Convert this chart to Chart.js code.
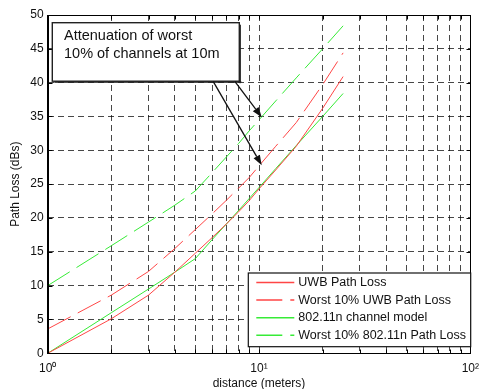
<!DOCTYPE html>
<html><head><meta charset="utf-8">
<script src="https://cdn.jsdelivr.net/npm/chart.js@4.4.0/dist/chart.umd.min.js"></script>
<style>html,body{margin:0;padding:0;background:#fff}#wrap{width:487px;height:389px;position:relative}</style>
</head><body><div id="wrap"><canvas id="c"></canvas></div>
<script>
// ---- data ----
const distances = [1, 2, 3, 4, 5, 6, 7, 8, 9, 10, 12, 15, 20, 25];
const uwbPathLoss = [0, 5.1, 8.6, 12.0, 14.8, 17.1, 19.1, 20.9, 22.6, 24.3, 27.1, 30.6, 36.2, 40.9];
const uwbWorst10 = [3.6, 8.6, 12.1, 15.5, 18.3, 20.6, 22.6, 24.4, 26.0, 27.7, 30.6, 34.1, 39.7, 44.4];
const n80211Model = [0, 6.0, 9.5, 12.0, 14.0, 16.8, 19.1, 21.1, 22.9, 24.5, 27.3, 30.7, 35.0, 38.4];
const n80211Worst10 = [10, 15.9, 19.4, 21.9, 24.0, 26.7, 29.0, 31.0, 32.9, 34.5, 37.3, 40.7, 45.0, 48.4];
const seriesLabels = ['UWB Path Loss', 'Worst 10% UWB Path Loss', '802.11n channel model', 'Worst 10% 802.11n Path Loss'];
const xGridValues = [1, 2, 3, 4, 5, 6, 7, 8, 9, 10, 20, 30, 40, 50, 60, 70, 80, 90, 100];
const xTickLabels = {1: '10\u2070', 10: '10\u00b9', 100: '10\u00b2'};
const yMin = 0, yMax = 50, yStep = 5;
const xTitle = 'distance (meters)';
const yTitle = 'Path Loss (dBs)';
const annotationLines = ['Attenuation of worst', '10% of channels at 10m'];
const arrowTargets = [[10.3, 34.9], [10.3, 27.8]];

const RED = 'rgb(255,70,70)';
const GREEN = 'rgb(55,235,55)';
const DASH = [26, 8];
const FONT = "'Liberation Sans', Arial, sans-serif";

Chart.defaults.font.family = FONT;
Chart.defaults.color = '#111';

const pts = vals => distances.map((d, i) => ({x: d, y: vals[i]}));

const datasets = [
  {label: seriesLabels[0], data: pts(uwbPathLoss), borderColor: RED, borderDash: []},
  {label: seriesLabels[1], data: pts(uwbWorst10), borderColor: RED, borderDash: DASH},
  {label: seriesLabels[2], data: pts(n80211Model), borderColor: GREEN, borderDash: []},
  {label: seriesLabels[3], data: pts(n80211Worst10), borderColor: GREEN, borderDash: DASH}
].map(d => Object.assign(d, {borderWidth: 1, pointRadius: 0, tension: 0, fill: false}));

function arrow(ctx, x1, y1, x2, y2) {
  const ang = Math.atan2(y2 - y1, x2 - x1);
  const L = 10, W = 3.6;
  const bx = x2 - L * Math.cos(ang), by = y2 - L * Math.sin(ang);
  ctx.beginPath(); ctx.moveTo(x1, y1); ctx.lineTo(bx, by); ctx.stroke();
  ctx.beginPath();
  ctx.moveTo(x2, y2);
  ctx.lineTo(bx + W * Math.sin(ang), by - W * Math.cos(ang));
  ctx.lineTo(bx - W * Math.sin(ang), by + W * Math.cos(ang));
  ctx.closePath(); ctx.fill();
}

const decor = {
  id: 'decor',
  afterDatasetsDraw(chart) {
    const {ctx, chartArea: a, scales: {x, y}} = chart;
    ctx.save();
    const L = Math.round(a.left) + 0.5, R = Math.round(a.right) + 0.5;
    const T = Math.round(a.top) + 0.5, B = Math.round(a.bottom) + 0.5;
    // inner ticks
    ctx.strokeStyle = '#000'; ctx.lineWidth = 1; ctx.setLineDash([]);
    ctx.beginPath();
    xGridValues.forEach(v => {
      const px = Math.round(x.getPixelForValue(v)) + 0.5;
      ctx.moveTo(px, B); ctx.lineTo(px, B - 4);
      ctx.moveTo(px, T); ctx.lineTo(px, T + 4);
    });
    for (let v = yMin; v <= yMax; v += yStep) {
      const py = Math.round(y.getPixelForValue(v)) + 0.5;
      ctx.moveTo(L, py); ctx.lineTo(L + 4, py);
      ctx.moveTo(R, py); ctx.lineTo(R - 4, py);
    }
    ctx.stroke();
    // frame
    ctx.strokeRect(L, T, R - L, B - T);

    // annotation box
    const bx = a.left + 4.6, by = a.top + 7.7, bw = 187, bh = 58.5;
    ctx.fillStyle = '#fff';
    ctx.fillRect(bx, by, bw, bh);
    ctx.fillStyle = '#222';
    ctx.fillRect(bx + bw, by + 2, 1.6, bh);
    ctx.fillRect(bx + 2, by + bh, bw, 1.6);
    ctx.strokeStyle = '#222'; ctx.lineWidth = 1.4;
    ctx.strokeRect(bx, by, bw, bh);
    ctx.fillStyle = '#111';
    ctx.font = '14.5px ' + FONT;
    ctx.textAlign = 'left'; ctx.textBaseline = 'middle';
    annotationLines.forEach((t, i) => ctx.fillText(t, bx + 11.7, by + 13.5 + i * 17.3));
    // arrows
    ctx.strokeStyle = '#111'; ctx.fillStyle = '#111'; ctx.lineWidth = 1.3;
    const starts = [bx + bw - 4.3, bx + bw - 26];
    arrowTargets.forEach((t, i) => {
      arrow(ctx, starts[i], by + bh + 0.5, x.getPixelForValue(t[0]), y.getPixelForValue(t[1]));
    });

    // legend
    const lx = 248.3, ly = 273, lw = 222.4, lh = 73.7;
    ctx.fillStyle = '#fff';
    ctx.fillRect(lx, ly, lw, lh);
    ctx.strokeStyle = '#111'; ctx.lineWidth = 1.2;
    ctx.strokeRect(lx, ly, lw, lh);
    ctx.font = '12.5px ' + FONT;
    chart.data.datasets.forEach((ds, i) => {
      const cy = ly + 9.5 + i * 17.6;
      ctx.strokeStyle = ds.borderColor; ctx.lineWidth = 1.5;
      ctx.setLineDash(ds.borderDash || []);
      ctx.beginPath(); ctx.moveTo(lx + 8, cy); ctx.lineTo(lx + 46, cy); ctx.stroke();
      ctx.setLineDash([]);
      ctx.fillStyle = '#111';
      ctx.fillText(ds.label, lx + 50, cy);
    });
    ctx.restore();
  }
};

new Chart(document.getElementById('c'), {
  type: 'line',
  data: {datasets},
  plugins: [decor],
  options: {
    responsive: true, maintainAspectRatio: false, animation: false,
    layout: {padding: {left: 0, right: 9, top: 15, bottom: 0}},
    plugins: {legend: {display: false}, tooltip: {enabled: false}},
    scales: {
      x: {
        type: 'logarithmic', min: 1, max: 100,
        afterBuildTicks: s => { s.ticks = xGridValues.map(v => ({value: v})); },
        afterFit: s => { s.height = 35.7; },
        ticks: {autoSkip: false, maxRotation: 0, padding: 8, font: {size: 12}, color: '#111',
          callback: v => xTickLabels[v] || ''},
        grid: {color: 'rgba(0,0,0,0.72)', lineWidth: 1, drawTicks: false},
        border: {display: true, color: '#000', width: 1, dash: [6, 4]},
        title: {display: true, text: xTitle, font: {size: 12, lineHeight: 1}, color: '#111', padding: {top: 0, bottom: -1}}
      },
      y: {
        type: 'linear', min: yMin, max: yMax,
        afterFit: s => { s.width = 47.7; },
        ticks: {stepSize: yStep, padding: 4, font: {size: 12}, color: '#111'},
        grid: {color: 'rgba(0,0,0,0.72)', lineWidth: 1, drawTicks: false},
        border: {display: true, color: '#000', width: 1, dash: [6, 4]},
        title: {display: true, text: yTitle, font: {size: 12, lineHeight: 1}, color: '#111', padding: {top: 10, bottom: 0}}
      }
    }
  }
});
</script></body></html>
